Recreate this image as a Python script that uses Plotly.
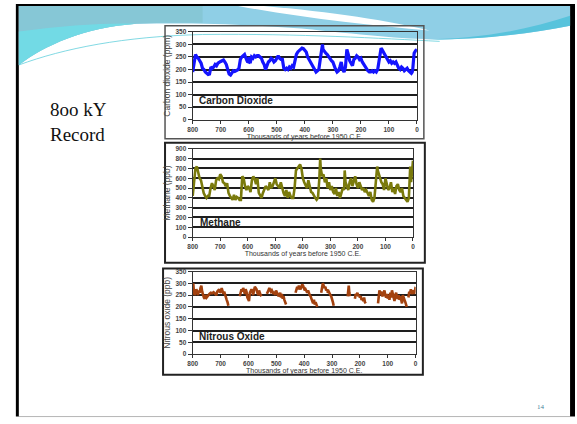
import re
import plotly.graph_objects as go

W, H = 577, 424

# ---------------- data (thousands of years before 1950 CE) ----------------
co2_age = [800, 795, 790, 785, 780, 775, 770, 765, 760, 755, 750, 745, 740, 735, 730, 725, 720, 715, 710, 705,
           700, 695, 690, 685, 680, 675, 670, 665, 660, 655, 650, 645, 640, 635, 630, 625, 620, 615, 610, 605,
           600, 598, 595, 590, 585, 580, 575, 570, 565, 560, 555, 550, 545, 540, 535, 530, 525, 520, 515, 510,
           505, 500, 495, 490, 485, 480, 475, 470, 465, 460, 455, 450, 445, 440, 435, 430, 425, 420, 415, 410,
           405, 400, 395, 390, 385, 380, 375, 370, 365, 360, 355, 350, 345, 340, 337, 335, 330, 325, 320, 315,
           310, 305, 300, 295, 290, 285, 280, 275, 270, 265, 260, 255, 252, 250, 245, 240, 235, 230, 225, 220,
           215, 210, 205, 200, 195, 190, 185, 180, 175, 170, 165, 160, 155, 150, 145, 140, 135, 130, 128, 125,
           120, 115, 110, 105, 100, 95, 90, 85, 80, 75, 70, 65, 60, 55, 50, 45, 40, 35, 30, 25,
           20, 17, 15, 12, 10, 5, 0]
co2_ppm = [190, 230, 260, 250, 245, 235, 225, 205, 200, 190, 185, 180, 182, 210, 205, 210, 220, 215, 225, 230,
           232, 235, 238, 230, 220, 200, 182, 178, 190, 195, 192, 195, 198, 205, 240, 250, 255, 260, 245, 232,
           230, 250, 225, 250, 245, 255, 250, 255, 255, 250, 245, 230, 220, 200, 215, 230, 235, 245, 240, 230,
           235, 245, 255, 245, 240, 240, 205, 200, 205, 200, 210, 205, 215, 210, 235, 260, 270, 275, 280, 285,
           283, 275, 270, 250, 240, 225, 220, 210, 200, 190, 195, 200, 240, 280, 300, 280, 270, 265, 260, 250,
           245, 235, 230, 210, 200, 190, 195, 210, 230, 200, 190, 210, 250, 280, 260, 235, 225, 215, 240, 245,
           255, 250, 240, 245, 230, 220, 215, 200, 195, 190, 190, 195, 190, 195, 190, 200, 230, 265, 285, 280,
           270, 260, 245, 240, 230, 235, 225, 230, 225, 230, 215, 205, 200, 210, 205, 195, 200, 205, 195, 190,
           185, 190, 200, 240, 265, 275, 280]

ch4_age = [800, 795, 790, 785, 780, 775, 770, 765, 760, 755, 750, 745, 740, 735, 730, 725, 720, 715, 710, 705,
           700, 695, 690, 685, 680, 675, 670, 665, 660, 655, 650, 645, 640, 635, 630, 625, 620, 615, 610, 605,
           600, 595, 590, 585, 580, 575, 570, 565, 560, 555, 550, 545, 540, 535, 530, 525, 520, 515, 510, 505,
           500, 495, 490, 485, 480, 475, 470, 465, 460, 455, 450, 445, 440, 435, 430, 425, 420, 415, 410, 405,
           400, 395, 390, 385, 380, 375, 370, 365, 360, 355, 350, 345, 340, 337, 335, 330, 325, 320, 315, 310,
           305, 300, 295, 290, 285, 280, 275, 270, 265, 260, 255, 250, 248, 245, 240, 235, 230, 225, 220, 215,
           210, 205, 200, 195, 190, 185, 180, 175, 170, 165, 160, 155, 150, 145, 140, 135, 130, 128, 125, 120,
           115, 110, 105, 100, 95, 90, 85, 80, 75, 70, 65, 60, 55, 50, 45, 40, 35, 30, 25, 20,
           15, 12, 10, 7, 5, 3, 0]
ch4_ppb = [420, 550, 700, 720, 650, 600, 580, 500, 450, 420, 400, 420, 420, 500, 550, 520, 480, 580, 600, 590,
           640, 620, 560, 550, 520, 550, 450, 420, 400, 380, 430, 380, 410, 400, 380, 380, 620, 600, 520, 480,
           520, 500, 460, 580, 620, 590, 540, 600, 450, 420, 400, 450, 480, 520, 500, 480, 560, 500, 520, 560,
           600, 540, 520, 500, 560, 500, 450, 420, 480, 400, 460, 420, 400, 400, 500, 680, 700, 720, 740, 700,
           600, 560, 520, 500, 580, 520, 460, 450, 420, 400, 380, 400, 600, 800, 700, 620, 640, 560, 600, 500,
           560, 480, 520, 460, 440, 500, 420, 460, 400, 450, 500, 480, 680, 560, 520, 480, 560, 600, 520, 560,
           620, 540, 500, 560, 520, 480, 500, 460, 480, 440, 420, 460, 380, 360, 400, 560, 720, 680, 650, 600,
           560, 540, 480, 600, 520, 480, 500, 560, 460, 500, 440, 520, 540, 480, 460, 500, 420, 400, 380, 360,
           400, 640, 720, 560, 600, 680, 780]

n2o_age = [800, 798, 796, 793, 790, 787, 784, 781, 778, 775, 772, 769, 766, 763, 760, 757, 754, 750, 745, 740,
           735, 730, 725, 720, 715, 712, 708, 705, 702, 699, 696, 693, 690, 687, 684, 681, 678, 675, 672, 650,
           631, 628, 625, 622, 619, 616, 613, 610, 607, 604, 601, 598, 595, 592, 589, 586, 583, 580, 577, 574,
           571, 568, 565, 562, 559, 556, 553, 540,
           534, 531, 528, 525, 522, 519, 516, 513, 510, 507, 504, 501, 498, 495, 492, 489, 486, 483, 480, 477,
           474, 471, 468, 465, 450,
           431, 428, 425, 422, 419, 416, 413, 410, 407, 404, 401, 398, 395, 392, 389, 386, 383, 380, 377, 374,
           371, 368, 365, 362, 359, 356, 353, 345,
           339, 336, 333, 330, 327, 324, 321, 318, 315, 312, 309, 306, 303, 300, 297, 294, 270,
           244, 242, 240, 238, 236, 225,
           218, 215, 212, 209, 206, 203, 200, 197, 194, 191, 188, 185, 182, 179, 160,
           135, 133, 130, 127, 124, 121, 118, 115, 112, 109, 106, 103, 100, 97, 94, 91, 88, 85, 82, 79,
           76, 73, 70, 67, 64, 61, 58, 55, 52, 49, 46, 43, 40, 37, 34, 32, 29,
           26, 23, 20, 17, 14, 11, 8, 5, 3, 0]
n2o_ppb = [255, 300, 270, 250, 260, 275, 265, 250, 270, 260, 280, 290, 265, 250, 240, 235, 250, 240, 250, 255,
           260, 258, 262, 255, 250, 265, 270, 275, 260, 265, 280, 270, 255, 265, 250, 240, 230, 220, 205, None,
           245, 270, 275, 265, 280, 270, 255, 275, 265, 240, 230, 225, 260, 265, 275, 265, 250, 270, 285, 280,
           275, 260, 250, 270, 255, 250, 245, None,
           255, 260, 270, 280, 275, 265, 270, 260, 255, 265, 250, 270, 260, 255, 245, 250, 260, 240, 255, 235,
           245, 230, 220, 210, None,
           260, 280, 285, 275, 290, 280, 275, 285, 295, 290, 280, 270, 275, 265, 260, 270, 255, 250, 245, 235,
           225, 215, 230, 210, 220, 205, 200, None,
           260, 295, 300, 290, 280, 285, 270, 275, 260, 265, 255, 250, 245, 235, 220, 205, None,
           245, 270, 290, 260, 245, None,
           235, 255, 250, 260, 245, 250, 240, 245, 230, 235, 225, 240, 220, 215, None,
           215, 260, 270, 255, 265, 250, 245, 260, 270, 250, 240, 255, 235, 250, 230, 260, 240, 270, 255, 245,
           225, 250, 260, 240, 235, 250, 230, 245, 225, 215, 250, 235, 230, 220, 210, 200, None,
           240, 265, 260, 275, 255, 265, 270, 255, 265, 285]

x_ticks = [800, 700, 600, 500, 400, 300, 200, 100, 0]
x_title = "Thousands of years before 1950 C.E."

# ---------------- helpers ----------------
def pxx(x):
    return x / W

def pxy(y):
    return 1 - y / H

def path_px(p):
    def rep(m):
        return f"{float(m.group(1)) / W:.5f},{1 - float(m.group(2)) / H:.5f}"
    return re.sub(r"(-?[\d.]+),(-?[\d.]+)", rep, p)

FONT = "Liberation Sans, Arial, sans-serif"

fig = go.Figure()
fig.add_trace(go.Scatter(x=co2_age, y=co2_ppm, mode="lines", line=dict(color="#1414ff", width=3.2),
                         xaxis="x", yaxis="y", showlegend=False))
fig.add_trace(go.Scatter(x=ch4_age, y=ch4_ppb, mode="lines", line=dict(color="#7a7a0c", width=2.6),
                         xaxis="x2", yaxis="y2", showlegend=False))
fig.add_trace(go.Scatter(x=n2o_age, y=n2o_ppb, mode="lines", connectgaps=False,
                         line=dict(color="#a3420f", width=2.6),
                         xaxis="x3", yaxis="y3", showlegend=False))

def xaxis(dom, anchor):
    return dict(domain=dom, anchor=anchor, range=[800, 0], tickvals=x_ticks,
                ticks="outside", ticklen=3, tickcolor="#333", showgrid=False, zeroline=False,
                showline=True, linecolor="#333", linewidth=1.2, mirror=True,
                tickfont=dict(family=FONT, size=6.5, color="#444", weight="bold"),
                title=dict(text=x_title, font=dict(family=FONT, size=7, color="#333"), standoff=0))

def yaxis(dom, anchor, rng, dt, title):
    return dict(domain=dom, anchor=anchor, range=rng, dtick=dt, tick0=0,
                ticks="outside", ticklen=4, tickcolor="#333", showgrid=True, gridcolor="#1e1e1e",
                gridwidth=1.8, zeroline=False, showline=True, linecolor="#333", linewidth=1.2, mirror=True,
                tickfont=dict(family=FONT, size=6.5, color="#444", weight="bold"),
                title=dict(text=title, font=dict(family=FONT, size=8.5, color="#444"), standoff=3))

layout = dict(
    width=W, height=H, margin=dict(l=0, r=0, t=0, b=0),
    paper_bgcolor="#ffffff", plot_bgcolor="rgba(0,0,0,0)",
    xaxis=xaxis([pxx(190), pxx(417)], "y"),
    yaxis=yaxis([pxy(117.7), pxy(28.3)], "x", [0, 350], 50, "Carbon dioxide (ppm)"),
    xaxis2=xaxis([pxx(190), pxx(413)], "y2"),
    yaxis2=yaxis([pxy(237), pxy(147.3)], "x2", [0, 900], 100, "Methane (ppb)"),
    xaxis3=xaxis([pxx(190), pxx(415.7)], "y3"),
    yaxis3=yaxis([pxy(356), pxy(272)], "x3", [0, 350], 50, "Nitrous oxide (ppb)"),
)
fig.update_layout(**layout)

shapes = []
# black slide frame and white slide
shapes.append(dict(type="rect", xref="paper", yref="paper", x0=pxx(11), x1=1, y0=pxy(419.5), y1=1,
                   fillcolor="#000000", line=dict(width=0), layer="below"))
shapes.append(dict(type="rect", xref="paper", yref="paper", x0=pxx(14), x1=pxx(572), y0=pxy(419), y1=pxy(2),
                   fillcolor="#ffffff", line=dict(width=0), layer="below"))
shapes.append(dict(type="line", xref="paper", yref="paper", x0=pxx(14), x1=pxx(572), y0=pxy(419.5), y1=pxy(419.5),
                   line=dict(color="#bdbdbd", width=1), layer="below"))
# top decoration
deco = [
    ("M14,2 L572,2 L572,22 C540,28 500,35 440,36 C400,36 360,31 300,25 C250,21 200,19 133,20 C80,24 40,42 14,62 Z",
     "#8fcfe6", 1.0),
    ("M14,2 L200,2 L200,19 C170,19 150,19 133,20 C80,24 40,42 14,62 Z", "#86c7d6", 1.0),
    ("M14,28 C60,22 100,19 133,20 C80,24 40,42 14,62 Z", "#6fdde7", 0.85),
    ("M420,36 C480,36 530,26 572,12 L572,22 C530,30 480,37 420,36 Z", "#58c3dc", 1.0),
    ("M236,2 L262,2 C330,8 390,17 430,27 C370,22 300,14 236,2 Z", "#ffffff", 1.0),
]
for p, c, op in deco:
    shapes.append(dict(type="path", xref="paper", yref="paper", path=path_px(p), fillcolor=c, opacity=op,
                       line=dict(width=0), layer="below"))
shapes.append(dict(type="path", xref="paper", yref="paper",
                   path=path_px("M14,62 C60,45 120,33 200,31 C300,30 380,35 440,38"),
                   line=dict(color="#62cfdc", width=0.8), layer="below"))
# chart frames
for (x0, y0, x1, y1, col, lw) in [(162, 22, 424, 137, "#555555", 1.5),
                                   (162, 141, 425, 263, "#222222", 2),
                                   (160, 269, 423, 377, "#222222", 2)]:
    shapes.append(dict(type="rect", xref="paper", yref="paper", x0=pxx(x0), x1=pxx(x1), y0=pxy(y1), y1=pxy(y0),
                       line=dict(color=col, width=lw), fillcolor="rgba(0,0,0,0)", layer="below"))
fig.update_layout(shapes=shapes)

ann = [
    dict(text="<b>Carbon Dioxide</b>", xref="x", yref="y", x=786, y=75),
    dict(text="<b>Methane</b>", xref="x2", yref="y2", x=780, y=150),
    dict(text="<b>Nitrous Oxide</b>", xref="x3", yref="y3", x=786, y=75),
]
for a in ann:
    fig.add_annotation(**a, xanchor="left", yanchor="middle", showarrow=False,
                       font=dict(family=FONT, size=10, color="#222"))

fig.add_annotation(text="8oo kY<br>Record", xref="paper", yref="paper", x=pxx(44), y=pxy(95),
                   xanchor="left", yanchor="top", align="left", showarrow=False,
                   font=dict(family="Liberation Serif, DejaVu Serif, serif", size=19, color="#111"))
fig.add_annotation(text="14", xref="paper", yref="paper", x=pxx(543), y=pxy(410),
                   xanchor="center", yanchor="middle", showarrow=False,
                   font=dict(family="Liberation Serif, serif", size=7, color="#3f7f9a"))

fig.write_html("out.html", config={"displayModeBar": False},
               post_script="document.body.style.margin='0';document.body.style.overflow='hidden';")
